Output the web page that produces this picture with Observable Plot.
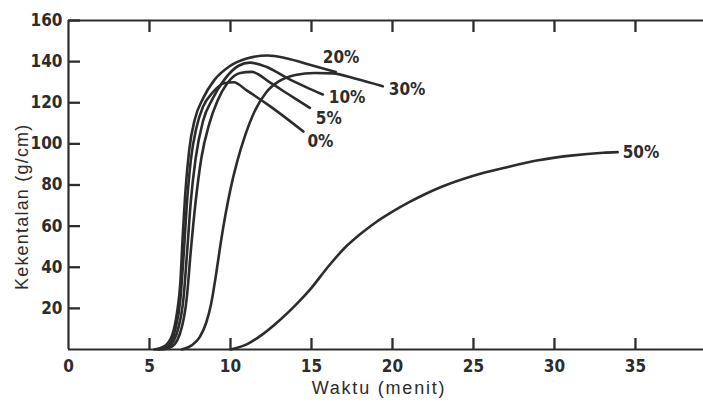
<!DOCTYPE html>
<html><head><meta charset="utf-8">
<script src="https://cdn.jsdelivr.net/npm/d3@7"></script>
<script src="https://cdn.jsdelivr.net/npm/@observablehq/plot@0.6"></script>
<style>
body{margin:0;background:#fff;}
#chart{width:703px;height:405px;overflow:hidden;}
</style></head><body><div id="chart"></div>
<script>
// ---- data ----
const seriesNames = ["0%", "5%", "10%", "20%", "30%", "50%"];

const time_0 = [5.5, 6.1, 6.6, 6.9, 7.1, 7.3, 7.55, 7.9, 8.3, 8.9, 9.6, 10.2, 11.0, 12.5, 14.5];
const visc_0 = [0, 1.5, 10, 24, 45, 70, 92, 108, 118, 125, 129.5, 130, 126, 118, 106];

const time_5 = [5.8, 6.4, 7.0, 7.3, 7.55, 7.85, 8.2, 8.7, 9.2, 9.8, 10.6, 11.3, 12.5, 13.6, 14.9];
const visc_5 = [0, 1.5, 11, 25, 48, 72, 93, 110, 121, 129.5, 134.5, 135, 129.5, 124, 117.5];

const time_10 = [5.6, 6.2, 6.8, 7.1, 7.3, 7.55, 7.85, 8.3, 8.9, 9.6, 10.5, 11.2, 12.2, 13.5, 14.7, 15.7];
const visc_10 = [0, 1.5, 11, 25, 45, 72, 93, 111, 122, 131, 138, 139.5, 137.5, 132, 127.5, 124];

const time_20 = [5.3, 5.9, 6.4, 6.7, 6.9, 7.05, 7.2, 7.45, 7.8, 8.3, 9.0, 9.9, 11.0, 12.3, 13.5, 15.0, 16.5];
const visc_20 = [0, 1.5, 7, 18, 32, 55, 75, 97, 112, 122, 131, 137.5, 141.5, 143, 141.5, 138.2, 135];

const time_30 = [7.0, 7.6, 8.1, 8.5, 8.8, 9.1, 9.4, 9.7, 10.0, 10.4, 10.9, 11.5, 12.2, 13.0, 14.0, 15.2, 16.3, 17.8, 19.4];
const visc_30 = [0, 2, 6, 13, 22, 36, 52, 66, 78, 91, 104, 116, 125, 130.5, 133.5, 134.5, 134.3, 131.5, 128];

const time_50 = [10, 11, 12, 13, 14, 15, 16, 17, 18, 19, 20, 21, 22, 23, 25, 27, 29, 31, 33, 33.9];
const visc_50 = [0, 2.5, 7.5, 14, 21.5, 30, 40, 49, 56, 62, 67, 71.5, 75.5, 79, 84.5, 88.5, 92, 94.3, 95.7, 96];

const xTicks = [0, 5, 10, 15, 20, 25, 30, 35];
const yTicks = [20, 40, 60, 80, 100, 120, 140, 160];
const xTitle = "Waktu (menit)";
const yTitle = "Kekentalan (g/cm)";

// ---- build table ----
const times = [time_0, time_5, time_10, time_20, time_30, time_50];
const viscs = [visc_0, visc_5, visc_10, visc_20, visc_30, visc_50];
const rows = [];
seriesNames.forEach((s, i) => times[i].forEach((t, j) => rows.push({s, t, v: viscs[i][j]})));
const lastPts = seriesNames.map((s, i) => ({s, t: times[i][times[i].length - 1], v: viscs[i][viscs[i].length - 1]}));

const ink = "#2c2c2c";
const numFont = "'DejaVu Sans Condensed', 'Liberation Sans Narrow', 'DejaVu Sans', sans-serif";
const titleFont = "'Liberation Sans', Arial, Helvetica, sans-serif";

// layout
const W = 703, H = 405, mL = 68, mR = 0, mT = 20, mB = 56;
const frameW = W - mL - mR, frameH = H - mT - mB;
const tickLen = 12;

// label offsets (px) relative to each curve's end
const labelOffsets = {"0%": [4, 10], "5%": [6, 11], "10%": [6, 3], "20%": [-13, -14], "30%": [6, 3], "50%": [5, 0]};

const chart = Plot.plot({
  width: W,
  height: H,
  marginLeft: mL,
  marginRight: mR,
  marginTop: mT,
  marginBottom: mB,
  x: {domain: [0, 39.2]},
  y: {domain: [0, 160]},
  style: {background: "#fff", color: ink, fontFamily: numFont},
  marks: [
    // frame
    Plot.ruleY([0, 160], {stroke: ink, strokeWidth: 2.2}),
    Plot.ruleX([0], {stroke: ink, strokeWidth: 2.2}),
    // inward tick marks
    Plot.tickY(yTicks, {y: d => d, insetRight: frameW - tickLen, stroke: ink, strokeWidth: 2.3}),
    Plot.tickX(xTicks.filter(d => d > 0), {x: d => d, insetTop: frameH - (tickLen - 1), stroke: ink, strokeWidth: 2.3}),
    Plot.tickX(xTicks.filter(d => d > 0), {x: d => d, insetBottom: frameH - tickLen, stroke: ink, strokeWidth: 2.3}),
    // tick labels
    Plot.axisY({ticks: yTicks, tickSize: 0, tickPadding: 6, label: null,
      fontSize: 17, fontWeight: "bold", fontFamily: numFont, fill: ink}),
    Plot.axisX({ticks: xTicks, tickSize: 0, tickPadding: 10, label: null,
      fontSize: 17, fontWeight: "bold", fontFamily: numFont, fill: ink}),
    // curves
    Plot.line(rows, {x: "t", y: "v", z: "s", stroke: ink, strokeWidth: 2.6, curve: "monotone-x"}),
    ...lastPts.map(p => Plot.text([p], {x: "t", y: "v", text: "s", textAnchor: "start",
      dx: labelOffsets[p.s][0], dy: labelOffsets[p.s][1],
      fontSize: 17, fontWeight: "bold", fontFamily: numFont, fill: ink})),
    // axis titles
    Plot.text([yTitle], {frameAnchor: "left", textAnchor: "start", lineAnchor: "middle", rotate: -90,
      dx: -46, dy: 105, fontSize: 18, fontFamily: titleFont, fill: ink}),
    Plot.text([xTitle], {frameAnchor: "bottom", textAnchor: "middle", lineAnchor: "middle",
      dx: -7, dy: 39, fontSize: 18, fontFamily: titleFont, fill: ink})
  ]
});
d3.select(chart).selectAll("text").filter(function() { return this.textContent === xTitle; })
  .attr("letter-spacing", "1.8px");
d3.select(chart).selectAll("text").filter(function() { return this.textContent === yTitle; })
  .attr("letter-spacing", "1.2px");
document.getElementById("chart").appendChild(chart);
</script>
</body></html>
